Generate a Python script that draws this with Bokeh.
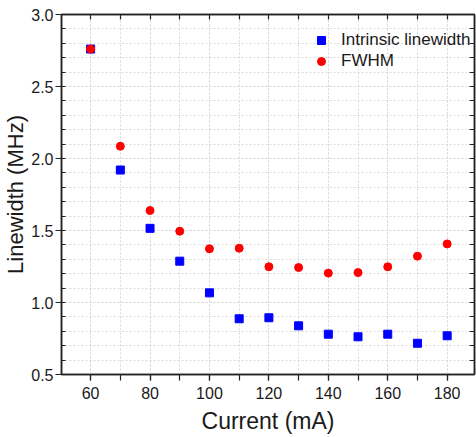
from bokeh.plotting import figure
from bokeh.models import (LinearAxis, SingleIntervalTicker, FixedTicker, NumeralTickFormatter,
                          Range1d, Legend, LegendItem)
from bokeh.embed import file_html
from bokeh.resources import INLINE

current = [60, 70, 80, 90, 100, 110, 120, 130, 140, 150, 160, 170, 180]
intrinsic = [2.76, 1.92, 1.515, 1.287, 1.067, 0.887, 0.894, 0.838, 0.78, 0.762, 0.78, 0.717, 0.769]
fwhm = [2.76, 2.085, 1.639, 1.495, 1.373, 1.377, 1.248, 1.243, 1.204, 1.208, 1.248, 1.322, 1.407]

top_ticks = list(range(60, 190, 10))
right_ticks = [round(0.5 + 0.1 * i, 1) for i in range(1, 25)]

FONT = "Liberation Sans"
AX = "#222222"

p = figure(frame_width=413, frame_height=360, output_backend="svg", toolbar_location=None,
           x_range=Range1d(50.2, 189.2), y_range=Range1d(0.5, 3.0),
           min_border_left=61, min_border_top=14, min_border_right=2, min_border_bottom=63,
           background_fill_color="white", border_fill_color="white")

p.outline_line_color = AX
p.outline_line_width = 1.5

for ax in p.xaxis:
    ax.ticker = SingleIntervalTicker(interval=20, num_minor_ticks=2)
for ax in p.yaxis:
    ax.ticker = SingleIntervalTicker(interval=0.5, num_minor_ticks=5)
    ax.formatter = NumeralTickFormatter(format="0.0")

for ax in p.axis:
    ax.axis_line_color = AX
    ax.axis_line_width = 1.5
    ax.major_tick_line_color = AX
    ax.minor_tick_line_color = AX
    ax.major_tick_line_width = 1.2
    ax.minor_tick_line_width = 1.2
    ax.major_label_text_font = FONT
    ax.major_label_text_font_size = "16px"
    ax.major_label_text_color = "#1a1a1a"
    ax.axis_label_text_font = FONT
    ax.axis_label_text_font_style = "normal"
    ax.axis_label_text_color = "#1a1a1a"

p.xaxis.axis_label = "Current (mA)"
p.yaxis.axis_label = "Linewidth (MHz)"
p.xaxis.axis_label_text_font_size = "23px"
p.yaxis.axis_label_text_font_size = "22px"
p.xaxis.major_tick_out = 6
p.xaxis.major_tick_in = 0
p.xaxis.minor_tick_out = 6
p.xaxis.minor_tick_in = 0
p.xaxis.major_label_standoff = 6
p.xaxis.axis_label_standoff = 6
p.yaxis.major_tick_out = 6
p.yaxis.major_tick_in = 0
p.yaxis.minor_tick_out = 0
p.yaxis.minor_tick_in = 4
p.yaxis.major_label_standoff = 2
p.yaxis.axis_label_standoff = 0

# top and right axes: inward ticks only, no labels
top = LinearAxis(ticker=FixedTicker(ticks=[], minor_ticks=top_ticks),
                 major_tick_in=0, major_tick_out=0, minor_tick_in=5, minor_tick_out=0,
                 major_label_standoff=0, axis_line_color=AX, axis_line_width=1.5,
                 minor_tick_line_color=AX, minor_tick_line_width=1.2)
p.add_layout(top, "above")
right = LinearAxis(ticker=FixedTicker(ticks=[], minor_ticks=right_ticks),
                   major_tick_in=0, major_tick_out=0, minor_tick_in=5, minor_tick_out=0,
                   major_label_standoff=0, axis_line_color=AX, axis_line_width=1.5,
                   minor_tick_line_color=AX, minor_tick_line_width=1.2)
p.add_layout(right, "right")

# grids: dashed light grey at major and minor positions
for g in p.grid:
    g.grid_line_color = "#d9d9d9"
    g.grid_line_dash = "2 2"
    g.grid_line_width = 1
    g.minor_grid_line_color = "#d9d9d9"
    g.minor_grid_line_dash = "2 2"
    g.minor_grid_line_width = 1

r1 = p.scatter(current, intrinsic, marker="square", size=8, fill_color="#0000ff",
               line_color="#0000ff")
r2 = p.scatter(current, fwhm, marker="circle", size=8, fill_color="#ff0000",
               line_color="#ff0000")

legend = Legend(items=[LegendItem(label="Intrinsic linewidth", renderers=[r1]),
                       LegendItem(label="FWHM", renderers=[r2])],
                location=(250, 303), padding=0, spacing=1, label_standoff=10,
                glyph_width=20, glyph_height=20, label_height=20,
                border_line_color=None, background_fill_alpha=0,
                label_text_font=FONT, label_text_font_size="17px",
                label_text_color="#1a1a1a")
p.add_layout(legend)

open("out.html", "w").write(file_html(p, INLINE))
